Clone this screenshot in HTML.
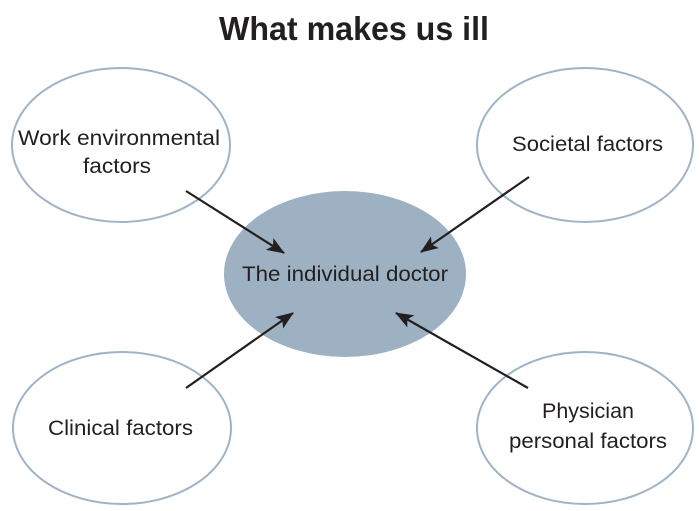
<!DOCTYPE html>
<html><head><meta charset="utf-8"><style>
html,body{margin:0;padding:0;background:#fff;}
svg{display:block;}
text{font-family:"Liberation Sans",sans-serif;fill:#231f20;}
</style></head><body>
<svg width="700" height="511" viewBox="0 0 700 511">
<defs>
<marker id="ah" markerWidth="18" markerHeight="14" refX="17" refY="7" orient="auto" markerUnits="userSpaceOnUse" viewBox="0 0 18 14">
<path d="M0,0 L18,7 L0,14 L4,7 Z" fill="#231f20"/>
</marker>
</defs>
<text x="354" y="40" font-size="33" font-weight="bold" text-anchor="middle" textLength="270" lengthAdjust="spacingAndGlyphs">What makes us ill</text>
<g fill="#fff" stroke="#9fb4c6" stroke-width="2">
<ellipse cx="121" cy="145" rx="109" ry="77"/>
<ellipse cx="585" cy="145" rx="108" ry="77"/>
<ellipse cx="122" cy="428" rx="109" ry="76"/>
<ellipse cx="585" cy="428" rx="108" ry="76"/>
</g>
<ellipse cx="345" cy="274" rx="121" ry="83" fill="#9db1c3"/>
<g stroke="#231f20" stroke-width="2.2" marker-end="url(#ah)">
<line x1="186" y1="191" x2="284" y2="253"/>
<line x1="529" y1="177" x2="421" y2="252"/>
<line x1="186" y1="388" x2="293" y2="313"/>
<line x1="528" y1="388" x2="396" y2="313"/>
</g>
<g font-size="21">
<text x="18" y="145" textLength="202" lengthAdjust="spacingAndGlyphs">Work environmental</text>
<text x="83" y="173" textLength="68" lengthAdjust="spacingAndGlyphs">factors</text>
<text x="512" y="151" textLength="151" lengthAdjust="spacingAndGlyphs">Societal factors</text>
<text x="242" y="281" textLength="206" lengthAdjust="spacingAndGlyphs">The individual doctor</text>
<text x="48" y="435" textLength="145" lengthAdjust="spacingAndGlyphs">Clinical factors</text>
<text x="542" y="418" textLength="92" lengthAdjust="spacingAndGlyphs">Physician</text>
<text x="509" y="448" textLength="158" lengthAdjust="spacingAndGlyphs">personal factors</text>
</g>
</svg>
</body></html>
